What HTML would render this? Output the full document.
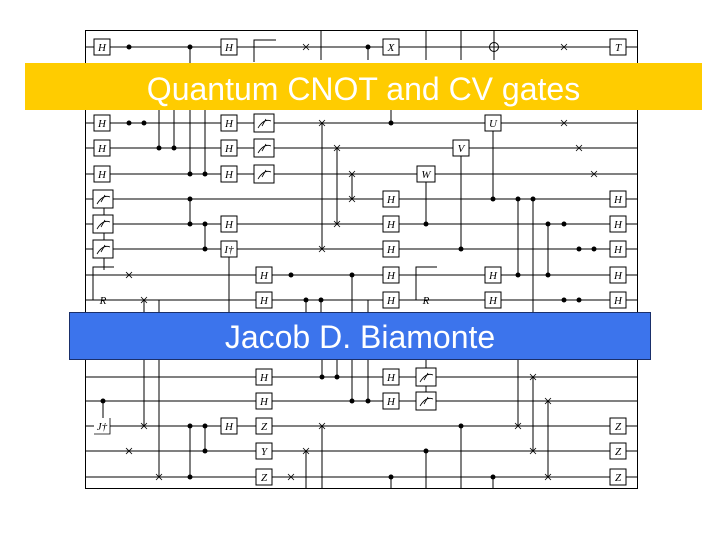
<!DOCTYPE html>
<html><head><meta charset="utf-8"><style>
html,body{margin:0;padding:0;background:#fff;width:720px;height:540px;overflow:hidden;position:relative}
svg{position:absolute;left:0;top:0}
.g rect{fill:#fff;stroke:#000;stroke-width:1}
text.l{font-family:"Liberation Serif",serif;font-style:italic;font-size:11px;text-anchor:middle}
.b{position:absolute;color:#fff;font-family:"Liberation Sans",sans-serif;text-align:center}
</style></head><body>
<svg width="720" height="540" viewBox="0 0 720 540">
<g stroke="#000" stroke-width="1" fill="none">
<rect x="85.5" y="30.5" width="552" height="458"/>
<path d="M85 47H637M85 123H637M85 148H637M85 174H637M85 199H637M85 224H637M85 249H637M85 275H637M85 300H637M85 377H637M85 401H637M85 426H637M85 451H637M85 477H637"/>
<path d="M190 47V174M159 110V148M174 110V148M205 110V174M321 30V60M426 30V60M461 30V60M494 30V60M368 47V60M254 47V60M391 110V123M254 60V60"/>
<path d="M322 123V249M337 148V224M352 174V199M493 123V199M461 148V249M426 174V224"/>
<path d="M190 199V224M205 224V249M518 199V275M533 199V313M548 224V275M104 199V270"/>
<path d="M229 249V313M144 300V313M159 300V313M306 300V313M321 300V313M352 275V313M368 300V313M518 313V426M533 377V451M548 401V477"/>
<path d="M144 359V426M159 359V477M322 359V377M337 359V377M352 359V401M368 359V401M426 359V401M103 401V418"/>
<path d="M190 426V477M205 426V451M322 426V488M306 451V488M426 451V488M461 426V488M391 477V488M493 477V488"/>
<path d="M254 62V40H276M93 300V267H114M416 300V267H437"/>
<g stroke-width="0.8">
<path d="M303 44l6 6m0-6l-6 6M561 44l6 6m0-6l-6 6M319 120l6 6m0-6l-6 6M561 120l6 6m0-6l-6 6M334 145l6 6m0-6l-6 6M576 145l6 6m0-6l-6 6M349 171l6 6m0-6l-6 6M591 171l6 6m0-6l-6 6M349 196l6 6m0-6l-6 6M334 221l6 6m0-6l-6 6M319 246l6 6m0-6l-6 6M126 272l6 6m0-6l-6 6M141 297l6 6m0-6l-6 6"/>
<path d="M530 374l6 6m0-6l-6 6M545 398l6 6m0-6l-6 6M141 423l6 6m0-6l-6 6M319 423l6 6m0-6l-6 6M515 423l6 6m0-6l-6 6M126 448l6 6m0-6l-6 6M303 448l6 6m0-6l-6 6M530 448l6 6m0-6l-6 6M156 474l6 6m0-6l-6 6M288 474l6 6m0-6l-6 6M545 474l6 6m0-6l-6 6"/>
</g>
<circle cx="494" cy="47" r="4.5" fill="#fff"/><path d="M494 42.5V51.5M489.5 47H498.5"/>
</g>
<g fill="#000">
<circle cx="129" cy="47" r="2.5"/><circle cx="190" cy="47" r="2.5"/><circle cx="368" cy="47" r="2.5"/>
<circle cx="129" cy="123" r="2.5"/><circle cx="144" cy="123" r="2.5"/><circle cx="391" cy="123" r="2.5"/>
<circle cx="159" cy="148" r="2.5"/><circle cx="174" cy="148" r="2.5"/>
<circle cx="190" cy="174" r="2.5"/><circle cx="205" cy="174" r="2.5"/>
<circle cx="190" cy="199" r="2.5"/><circle cx="493" cy="199" r="2.5"/><circle cx="518" cy="199" r="2.5"/><circle cx="533" cy="199" r="2.5"/>
<circle cx="190" cy="224" r="2.5"/><circle cx="205" cy="224" r="2.5"/><circle cx="426" cy="224" r="2.5"/><circle cx="548" cy="224" r="2.5"/><circle cx="564" cy="224" r="2.5"/>
<circle cx="205" cy="249" r="2.5"/><circle cx="461" cy="249" r="2.5"/><circle cx="579" cy="249" r="2.5"/><circle cx="594" cy="249" r="2.5"/>
<circle cx="291" cy="275" r="2.5"/><circle cx="352" cy="275" r="2.5"/><circle cx="518" cy="275" r="2.5"/><circle cx="548" cy="275" r="2.5"/>
<circle cx="306" cy="300" r="2.5"/><circle cx="321" cy="300" r="2.5"/><circle cx="564" cy="300" r="2.5"/><circle cx="579" cy="300" r="2.5"/>
<circle cx="322" cy="377" r="2.5"/><circle cx="337" cy="377" r="2.5"/>
<circle cx="103" cy="401" r="2.5"/><circle cx="352" cy="401" r="2.5"/><circle cx="368" cy="401" r="2.5"/>
<circle cx="190" cy="426" r="2.5"/><circle cx="205" cy="426" r="2.5"/><circle cx="461" cy="426" r="2.5"/>
<circle cx="205" cy="451" r="2.5"/><circle cx="426" cy="451" r="2.5"/>
<circle cx="190" cy="477" r="2.5"/><circle cx="391" cy="477" r="2.5"/><circle cx="493" cy="477" r="2.5"/>
</g>
<g class="g">
<rect x="94" y="39" width="16" height="16"/><rect x="221" y="39" width="16" height="16"/><rect x="383" y="39" width="16" height="16"/><rect x="610" y="39" width="16" height="16"/>
<rect x="94" y="115" width="16" height="16"/><rect x="221" y="115" width="16" height="16"/><rect x="485" y="115" width="16" height="16"/>
<rect x="94" y="140" width="16" height="16"/><rect x="221" y="140" width="16" height="16"/><rect x="453" y="140" width="16" height="16"/>
<rect x="94" y="166" width="16" height="16"/><rect x="221" y="166" width="16" height="16"/><rect x="417" y="166" width="18" height="16"/>
<rect x="383" y="191" width="16" height="16"/><rect x="610" y="191" width="16" height="16"/>
<rect x="221" y="216" width="16" height="16"/><rect x="383" y="216" width="16" height="16"/><rect x="610" y="216" width="16" height="16"/>
<rect x="221" y="241" width="16" height="16"/><rect x="383" y="241" width="16" height="16"/><rect x="610" y="241" width="16" height="16"/>
<rect x="256" y="267" width="16" height="16"/><rect x="383" y="267" width="16" height="16"/><rect x="485" y="267" width="16" height="16"/><rect x="610" y="267" width="16" height="16"/>
<rect x="256" y="292" width="16" height="16"/><rect x="383" y="292" width="16" height="16"/><rect x="485" y="292" width="16" height="16"/><rect x="610" y="292" width="16" height="16"/>
<rect x="256" y="369" width="16" height="16"/><rect x="383" y="369" width="16" height="16"/>
<rect x="256" y="393" width="16" height="16"/><rect x="383" y="393" width="16" height="16"/>
<rect x="221" y="418" width="16" height="16"/><rect x="256" y="418" width="16" height="16"/><rect x="610" y="418" width="16" height="16"/>
<rect x="256" y="443" width="16" height="16"/><rect x="610" y="443" width="16" height="16"/>
<rect x="256" y="469" width="16" height="16"/><rect x="610" y="469" width="16" height="16"/>
<rect x="254" y="114" width="20" height="18"/><rect x="254" y="139" width="20" height="18"/><rect x="254" y="165" width="20" height="18"/>
<rect x="93" y="190" width="20" height="18"/><rect x="93" y="215" width="20" height="18"/><rect x="93" y="240" width="20" height="18"/>
<rect x="416" y="368" width="20" height="18"/><rect x="416" y="392" width="20" height="18"/>
<rect x="94" y="418" width="16" height="16" style="stroke:none"/>
</g>
<g stroke="#000" stroke-width="0.8" fill="none">
<path d="M258 128Q264 118 271 121M262 126L266 119M258 153Q264 143 271 146M262 151L266 144M258 179Q264 169 271 172M262 177L266 170M97 204Q103 194 110 197M101 202L105 195M97 229Q103 219 110 222M101 227L105 220M97 254Q103 244 110 247M101 252L105 245M420 382Q426 372 433 375M424 380L428 373M420 406Q426 396 433 399M424 404L428 397"/>
<path d="M94 434H110V418"/>
</g>
<g>
<text class="l" x="102" y="51">H</text><text class="l" x="229" y="51">H</text><text class="l" x="391" y="51">X</text><text class="l" x="618" y="51">T</text>
<text class="l" x="102" y="127">H</text><text class="l" x="229" y="127">H</text><text class="l" x="493" y="127">U</text>
<text class="l" x="102" y="152">H</text><text class="l" x="229" y="152">H</text><text class="l" x="461" y="152">V</text>
<text class="l" x="102" y="178">H</text><text class="l" x="229" y="178">H</text><text class="l" x="426" y="178">W</text>
<text class="l" x="391" y="203">H</text><text class="l" x="618" y="203">H</text>
<text class="l" x="229" y="228">H</text><text class="l" x="391" y="228">H</text><text class="l" x="618" y="228">H</text>
<text class="l" x="229" y="253">I†</text><text class="l" x="391" y="253">H</text><text class="l" x="618" y="253">H</text>
<text class="l" x="264" y="279">H</text><text class="l" x="391" y="279">H</text><text class="l" x="493" y="279">H</text><text class="l" x="618" y="279">H</text>
<text class="l" x="103" y="304">R</text><text class="l" x="264" y="304">H</text><text class="l" x="391" y="304">H</text><text class="l" x="426" y="304">R</text><text class="l" x="493" y="304">H</text><text class="l" x="618" y="304">H</text>
<text class="l" x="264" y="381">H</text><text class="l" x="391" y="381">H</text>
<text class="l" x="264" y="405">H</text><text class="l" x="391" y="405">H</text>
<text class="l" x="102" y="430">J†</text><text class="l" x="229" y="430">H</text><text class="l" x="264" y="430">Z</text><text class="l" x="618" y="430">Z</text>
<text class="l" x="264" y="455">Y</text><text class="l" x="618" y="455">Z</text>
<text class="l" x="264" y="481">Z</text><text class="l" x="618" y="481">Z</text>
</g>
</svg>
<div class="b" style="left:25px;top:63px;width:677px;height:47px;background:#ffcc00;font-size:32px;line-height:52px">Quantum CNOT and CV gates</div>
<div class="b" style="left:69px;top:312px;width:580px;height:46px;background:#3c74ec;border:1px solid #1a2f6a;font-size:32px;line-height:48px">Jacob D. Biamonte</div>
</body></html>
